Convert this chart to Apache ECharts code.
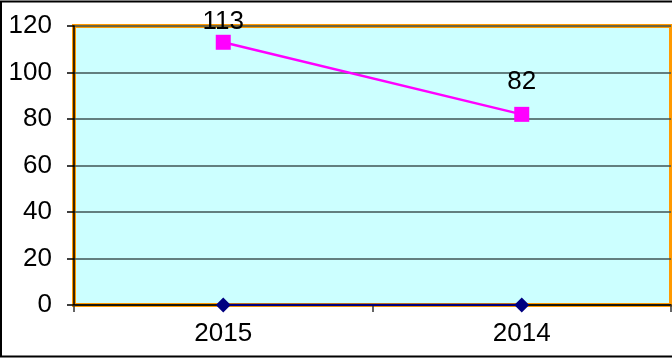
<!DOCTYPE html>
<html>
<head>
<meta charset="utf-8">
<script src="https://cdn.jsdelivr.net/npm/echarts@6/dist/echarts.min.js"></script>
<style>
  html, body { margin: 0; padding: 0; background: #fff; }
  #chart { width: 672px; height: 358px; }
</style>
</head>
<body>
<div id="chart"></div>
<script>
(function () {
    // data
    let years = ['2015', '2014'];
    let countA = [113, 82];   // magenta squares
    let countB = [0, 0];      // navy diamonds
    let yTicks = { min: 0, max: 120, step: 20 };

    let myChart = echarts.init(document.getElementById('chart'));
    let font = 'Arial, "Liberation Sans", sans-serif';

    let option = {
        backgroundColor: '#ffffff',
        animation: false,
        graphic: [
            {
                // outer frame of the picture
                type: 'polyline',
                shape: { points: [[673, 1.5], [1, 1.5], [1, 356.5], [673, 356.5]] },
                style: { stroke: '#000', lineWidth: 2, fill: null },
                z: 100
            }
        ],
        grid: {
            left: 74,
            right: 1,
            top: 26,
            bottom: 53,
            show: true,
            backgroundColor: '#ccffff',
            borderColor: '#ff9900',
            borderWidth: 4
        },
        xAxis: {
            type: 'category',
            data: years,
            boundaryGap: true,
            axisLine: { show: true, lineStyle: { color: '#000', width: 1.5 } },
            axisTick: { show: true, length: 7, alignWithLabel: false, lineStyle: { color: '#333', width: 1.5 } },
            axisLabel: { color: '#000', fontSize: 26, fontFamily: font, margin: 16 },
            splitLine: { show: false }
        },
        yAxis: {
            type: 'value',
            min: yTicks.min,
            max: yTicks.max,
            interval: yTicks.step,
            axisLine: { show: true, lineStyle: { color: '#000', width: 1.5 } },
            axisTick: { show: true, length: 7, lineStyle: { color: '#000', width: 1.5 } },
            axisLabel: { color: '#000', fontSize: 26, fontFamily: font, margin: 22 },
            splitLine: { show: true, lineStyle: { color: '#3f5555', width: 1.5 } }
        },
        series: [
            {
                name: 'B',
                type: 'line',
                data: countB,
                symbol: 'diamond',
                symbolSize: 15,
                itemStyle: { color: '#000080' },
                lineStyle: { color: '#000080', width: 2.5 },
                z: 3
            },
            {
                name: 'A',
                type: 'line',
                data: countA,
                symbol: 'rect',
                symbolSize: 15,
                itemStyle: { color: '#ff00ff' },
                lineStyle: { color: '#ff00ff', width: 2.5 },
                label: {
                    show: true,
                    position: 'top',
                    distance: 12,
                    color: '#000',
                    fontSize: 26,
                    fontFamily: font
                },
                // keep labels inside the picture, like the original does
                labelLayout: function (p) {
                    let minTop = 9;
                    if (p.labelRect.y < minTop) {
                        return { dy: minTop - p.labelRect.y };
                    }
                    return {};
                },
                z: 4
            }
        ]
    };

    myChart.setOption(option);
    window.addEventListener('resize', function () {
        myChart.resize();
    });
})();
</script>
</body>
</html>
